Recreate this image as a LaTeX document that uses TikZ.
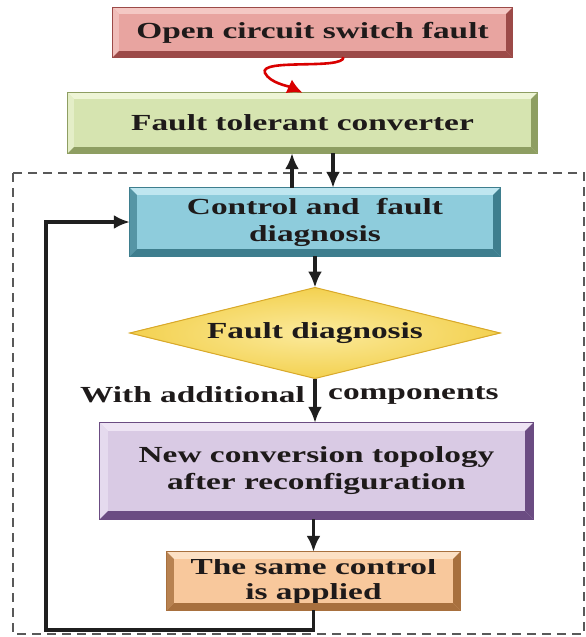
\documentclass[tikz,border=0pt]{standalone}
\usepackage{fontspec}
\setmainfont{Liberation Serif}[FakeStretch=1.45]
\usetikzlibrary{shapes.geometric,arrows.meta,calc}
\pgfdeclarelayer{bg}
\pgfsetlayers{bg,main}
\definecolor{redbase}{HTML}{E8A4A0}
\definecolor{redlight}{HTML}{F4C8C4}
\definecolor{reddark}{HTML}{9C4A48}
\definecolor{greenbase}{HTML}{D6E4B0}
\definecolor{greenlight}{HTML}{EEF5D6}
\definecolor{greendark}{HTML}{8E9E62}
\definecolor{bluebase}{HTML}{8ECCDC}
\definecolor{bluelight}{HTML}{BFE6F0}
\definecolor{bluedark}{HTML}{3E7E8E}
\definecolor{yelbase}{HTML}{F3D150}
\definecolor{yellight}{HTML}{FBEA9C}
\definecolor{yeldark}{HTML}{D9A92A}
\definecolor{purbase}{HTML}{D9CAE4}
\definecolor{purlight}{HTML}{EEE4F4}
\definecolor{purdark}{HTML}{6B4C82}
\definecolor{orabase}{HTML}{F8C89C}
\definecolor{oralight}{HTML}{FCE0C4}
\definecolor{oradark}{HTML}{A8703E}
\definecolor{inkc}{HTML}{1E1A1A}
\newcommand\bevelbox[6]{% node, top, left, right, bottom, width
  \fill[#2] (#1.north west) -- (#1.north east) -- ([shift={(-#6,-#6)}]#1.north east) -- ([shift={(#6,-#6)}]#1.north west) -- cycle;
  \fill[#3] (#1.north west) -- (#1.south west) -- ([shift={(#6,#6)}]#1.south west) -- ([shift={(#6,-#6)}]#1.north west) -- cycle;
  \fill[#4] (#1.north east) -- (#1.south east) -- ([shift={(-#6,#6)}]#1.south east) -- ([shift={(-#6,-#6)}]#1.north east) -- cycle;
  \fill[#5] (#1.south west) -- (#1.south east) -- ([shift={(-#6,#6)}]#1.south east) -- ([shift={(#6,#6)}]#1.south west) -- cycle;
  \draw[#5, line width=0.8pt] (#1.north west) rectangle (#1.south east);
}
\newcommand\glowrect[2]{%
  \begin{pgfonlayer}{bg}
  \foreach \g/\o in {10/0.10, 7/0.16, 4/0.25}
    \fill[#2, opacity=\o, rounded corners=\g pt] ([shift={(-\g pt,\g pt)}]#1.north west) rectangle ([shift={(\g pt,-\g pt)}]#1.south east);
  \end{pgfonlayer}
}
\begin{document}
\begin{tikzpicture}[x=1pt,y=-1pt,
  box/.style={rectangle, inner sep=0pt, align=center, text=inkc,
    font=\fontsize{23}{27}\selectfont\bfseries},
  lbl/.style={inner sep=0pt, text=inkc, font=\fontsize{23}{27}\selectfont\bfseries},
  conn/.style={line width=3.2pt, draw=black!88, -{Latex[length=16pt,width=14pt]}}]
\useasboundingbox (0,0) rectangle (586,637);
\fill[white] (0,0) rectangle (586,637);

% dashed frame
\draw[black!65, line width=1.6pt, dash pattern=on 9pt off 6pt] (13,173) rectangle (584,634);

% nodes
\node[box, fill=redbase, minimum width=399pt, minimum height=49pt] (red) at (312.5,32.5) {Open circuit switch fault};
\node[box, fill=greenbase, minimum width=469pt, minimum height=60pt] (green) at (302.5,123) {Fault tolerant converter};
\node[box, fill=bluebase, minimum width=370pt, minimum height=68pt] (ctrl) at (315,222) {Control and~~fault\\diagnosis};
\node[diamond, inner sep=0pt, minimum width=369pt, minimum height=90pt, draw=yeldark, line width=1pt] (dia) at (315,333) {};
\node[box, fill=purbase, minimum width=433pt, minimum height=96pt] (pur) at (316.5,471) {New conversion topology\\after reconfiguration};
\node[box, fill=orabase, minimum width=293pt, minimum height=58pt, font=\fontsize{23}{25}\selectfont\bfseries] (ora) at (313.5,581) {The same control\\is applied};
\node[lbl, anchor=east] (wa) at (305,395) {With additional};
\node[lbl, anchor=west] (wc) at (328,395) {components};

% glows
\glowrect{red}{redbase}
\glowrect{green}{greenbase}
\glowrect{ctrl}{bluebase}
\glowrect{pur}{purbase}
\glowrect{ora}{orange!70}
\begin{pgfonlayer}{bg}
  \foreach \g/\o in {12/0.10, 8/0.16, 4/0.25}
    \fill[yelbase!90!orange, opacity=\o] ([yshift=-\g pt]dia.north) -- ([xshift=\g pt]dia.east) -- ([yshift=\g pt]dia.south) -- ([xshift=-\g pt]dia.west) -- cycle;
\end{pgfonlayer}

% bevels
\bevelbox{red}{redlight}{redlight!70!redbase}{reddark}{reddark}{6pt}
\bevelbox{green}{greenlight}{greenlight!60!greenbase}{greendark}{greendark}{6pt}
\bevelbox{ctrl}{bluelight}{bluedark!70!bluebase}{bluedark}{bluedark}{7pt}
\bevelbox{pur}{purlight}{purlight!60!purbase}{purdark}{purdark}{8pt}
\bevelbox{ora}{oralight}{oradark!80!orabase}{oradark}{oradark}{7pt}
\shade[inner color=yellight, outer color=yelbase] (dia.north) -- (dia.east) -- (dia.south) -- (dia.west) -- cycle;
\draw[yeldark, line width=1pt] (dia.north) -- (dia.east) -- (dia.south) -- (dia.west) -- cycle;
\node[lbl] (diat) at (dia.center) {Fault diagnosis};

% connectors
\draw[red!85!black, line width=2.6pt, -{Latex[length=15pt,width=15pt]}]
  ([xshift=31pt]red.south) .. controls +(0,13) and (258,58) .. (265,73)
  .. controls (270,83) and (288,86) .. (green.north);
\coordinate (up1) at ([xshift=-23pt]ctrl.north);
\coordinate (dn1) at ([xshift=18pt]ctrl.north);
\draw[conn] (up1) -- (up1 |- green.south);
\draw[conn] (dn1 |- green.south) -- (dn1);
\draw[conn] (ctrl.south) -- (dia.north);
\draw[conn] (dia.south) -- (dia.south |- pur.north);
\draw[conn] (ora.north |- pur.south) -- (ora.north);
\coordinate (fb) at (46,630);
\draw[conn] (ora.south) |- (fb) |- (ctrl.west);
\end{tikzpicture}
\end{document}
